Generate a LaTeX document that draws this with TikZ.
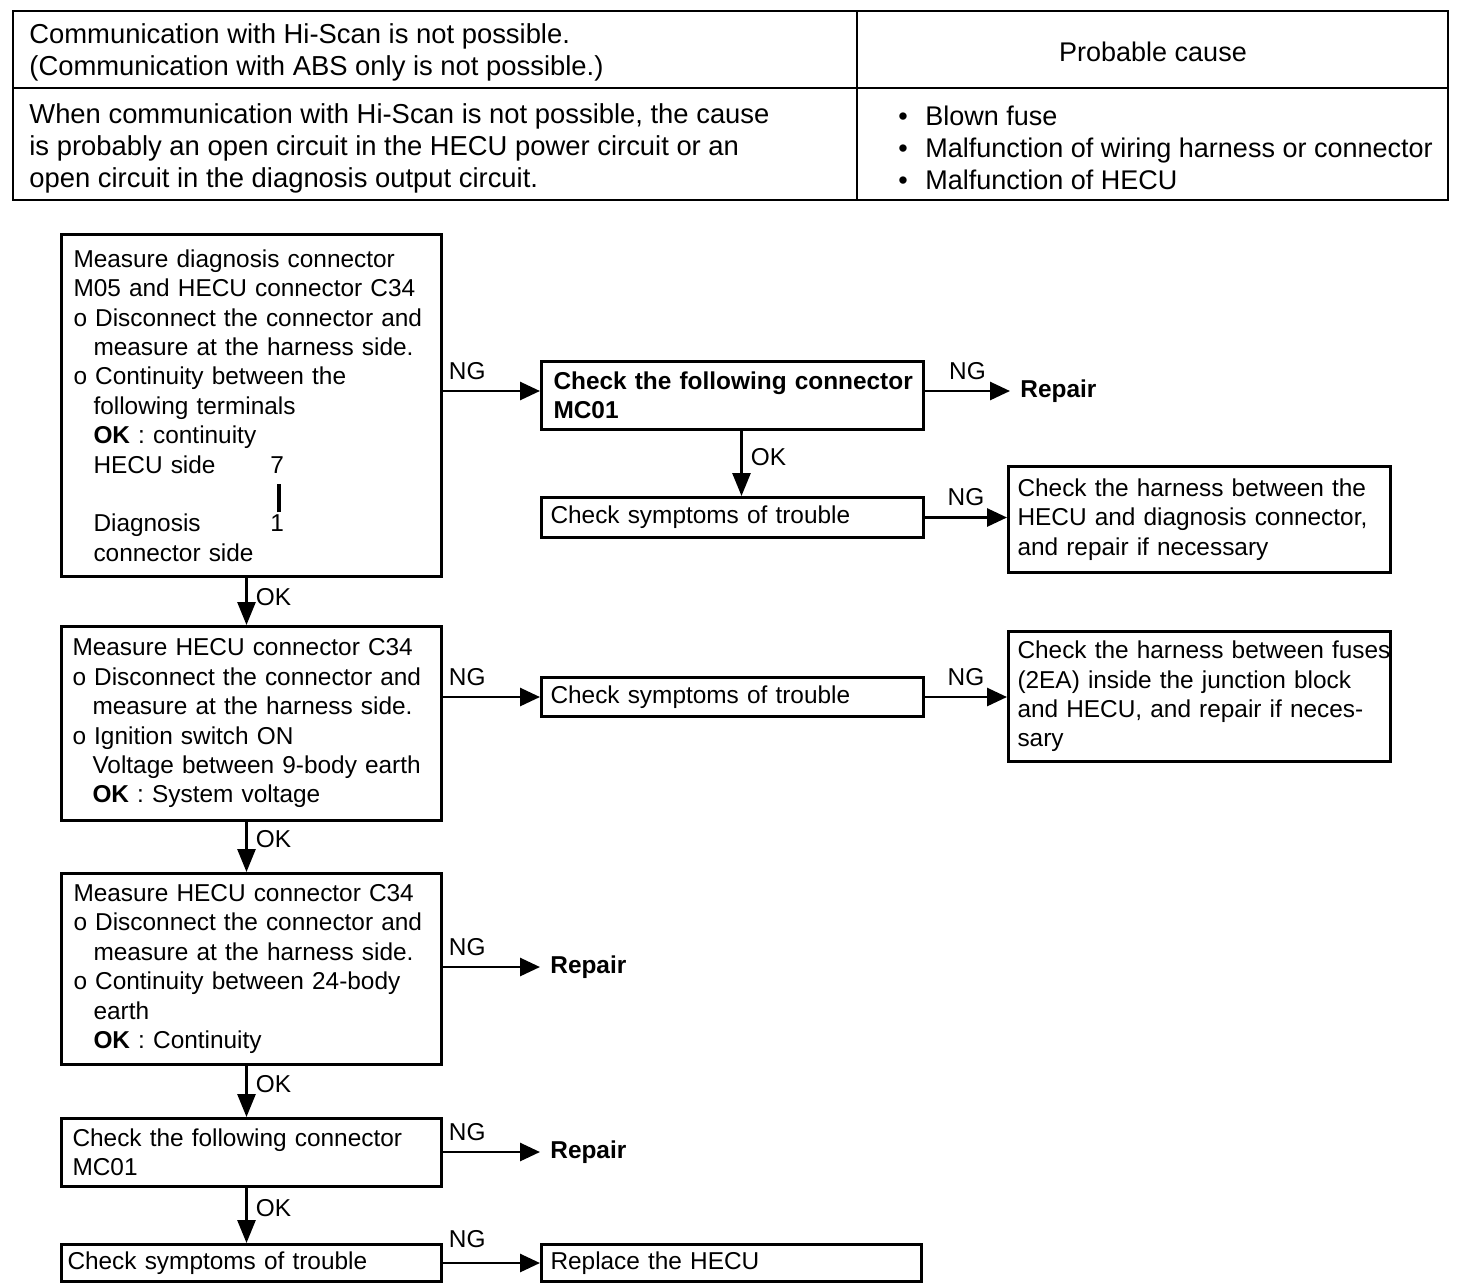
\documentclass[tikz,border=0pt]{standalone}
\usepackage{fontspec}
\setmainfont{Liberation Sans}
\usetikzlibrary{arrows.meta}
\newcommand\ind{\hspace*{10pt}}
\begin{document}
\begin{tikzpicture}[x=0.5pt,y=-0.5pt,
  fc/.style={font=\fontsize{12.2}{14.7}\selectfont},
  tt/.style={font=\fontsize{13.5}{16}\selectfont, inner sep=0pt},
  ttl/.style={font=\fontsize{13.7}{16}\selectfont, inner sep=0pt},
  box/.style={fc, draw, line width=1.5pt, anchor=north west, align=left, inner ysep=0pt},
  lbox/.style={box, inner xsep=6pt, minimum width=190pt, text width=178pt},
  rbox/.style={box, inner xsep=4.5pt, minimum width=191pt, text width=182pt},
  arr/.style={line width=1.4pt, -{Triangle[length=10pt,width=9pt]}},
  arrv/.style={line width=1.4pt, -{Triangle[length=11.5pt,width=9pt]}},
  lbl/.style={fc, inner sep=1pt},
  rep/.style={fc, font=\fontsize{12.2}{14.7}\selectfont\bfseries, anchor=west, inner xsep=5pt, inner ysep=1pt},
  tline/.style={line width=1.2pt}
]
\useasboundingbox (0,0) rectangle (1472,1286);
% table
\draw[tline] (13,11) rectangle (1448,200);
\draw[tline] (13,88) -- (1448,88);
\draw[tline] (857,11) -- (857,200);
\node[ttl, anchor=west, align=left] (q1) at (29,52) {Communication with Hi-Scan is not possible.\\(Communication with ABS only is not possible.)};
\node[ttl, anchor=west, align=left] (q2) at (29,148) {When communication with Hi-Scan is not possible, the cause\\is probably an open circuit in the HECU power circuit or an\\open circuit in the diagnosis output circuit.};
\node[tt] (pc) at (1153,52) {Probable cause};
\node[tt, anchor=west, align=left] (c1) at (898,148) {\makebox[13.5pt][l]{\textbullet}Blown fuse\\\makebox[13.5pt][l]{\textbullet}Malfunction of wiring harness or connector\\\makebox[13.5pt][l]{\textbullet}Malfunction of HECU};

% flowchart boxes
\node[lbox, minimum height=171pt] (A) at (60,233) {Measure diagnosis connector\\
M05 and HECU connector C34\\
o Disconnect the connector and\\
\ind measure at the harness side.\\
o Continuity between the\\
\ind following terminals\\
\ind\textbf{OK} : continuity\\
\ind\makebox[88.5pt][l]{HECU side}7\\
\ind\hspace*{91.5pt}\rule[-5pt]{2pt}{14pt}\\
\ind\makebox[88.5pt][l]{Diagnosis}1\\
\ind connector side};
\node[rbox, inner xsep=6pt, text width=179pt, minimum height=34pt, font=\fontsize{12.2}{14.7}\selectfont\bfseries] (B) at (540,360) {\mbox{Check the following connector}\\MC01};
\node[rbox, minimum height=20pt] (C) at (540,496) {Check symptoms of trouble};
\node[rbox, minimum width=190.5pt, text width=182pt, minimum height=53pt] (D) at (1007,465) {Check the harness between the\\\mbox{HECU and diagnosis connector,}\\and repair if necessary};
\node[lbox, inner xsep=5.5pt, text width=179pt, minimum height=97pt] (E) at (60,625) {Measure HECU connector C34\\
o Disconnect the connector and\\
\ind measure at the harness side.\\
o Ignition switch ON\\
\ind Voltage between 9-body earth\\
\ind\textbf{OK} : System voltage};
\node[rbox, minimum height=19.5pt] (F) at (540,676) {Check symptoms of trouble};
\node[rbox, minimum width=190.5pt, text width=182pt, minimum height=65pt] (G) at (1007,630) {\mbox{Check the harness between fuses}\\(2EA) inside the junction block\\and HECU, and repair if neces-\\sary};
\node[lbox, minimum height=95.5pt] (H) at (60,872) {Measure HECU connector C34\\
o Disconnect the connector and\\
\ind measure at the harness side.\\
o Continuity between 24-body\\
\ind earth\\
\ind\textbf{OK} : Continuity};
\node[lbox, inner xsep=5.5pt, text width=179pt, minimum height=34pt] (I) at (60,1117) {Check the following connector\\MC01};
\node[lbox, inner xsep=3pt, text width=184pt, minimum height=18.5pt] (J) at (60,1243) {Check symptoms of trouble};
\node[rbox, minimum width=190pt, text width=181pt, minimum height=18.5pt] (K) at (540,1243) {Replace the HECU};

\node[rep] (R1) at (1010,391) {Repair};
\node[rep] (R2) at (540,967) {Repair};
\node[rep] (R3) at (540,1152) {Repair};

% connectors
\draw[arr] (A.east |- R1.west) -- node[lbl, pos=0.25, above, yshift=4pt]{NG} (B.west |- R1.west);
\draw[arr] (B.east |- R1.west) -- node[lbl, pos=0.5, above, yshift=4pt]{NG} (R1.west);
\draw[arrv] ([xshift=4.5pt]B.south) -- node[lbl, pos=0.4, right, xshift=3pt]{OK} ([xshift=4.5pt]B.south |- C.north);
\draw[arr] (C.east) -- node[lbl, pos=0.5, above, yshift=4pt]{NG} (C.east -| D.west);
\draw[arrv] ([xshift=-2.5pt]A.south) -- node[lbl, pos=0.4, right, xshift=3pt]{OK} ([xshift=-2.5pt]A.south |- E.north);
\draw[arr] (E.east |- F.west) -- node[lbl, pos=0.25, above, yshift=4pt]{NG} (F.west);
\draw[arr] (F.east) -- node[lbl, pos=0.5, above, yshift=4pt]{NG} (F.east -| G.west);
\draw[arrv] ([xshift=-2.5pt]E.south) -- node[lbl, pos=0.35, right, xshift=3pt]{OK} ([xshift=-2.5pt]E.south |- H.north);
\draw[arr] (H.east |- R2.west) -- node[lbl, pos=0.25, above, yshift=4pt]{NG} (R2.west);
\draw[arrv] ([xshift=-2.5pt]H.south) -- node[lbl, pos=0.35, right, xshift=3pt]{OK} ([xshift=-2.5pt]H.south |- I.north);
\draw[arr] (I.east |- R3.west) -- node[lbl, pos=0.25, above, yshift=4pt]{NG} (R3.west);
\draw[arrv] ([xshift=-2.5pt]I.south) -- node[lbl, pos=0.36, right, xshift=3pt]{OK} ([xshift=-2.5pt]I.south |- J.north);
\draw[arr] (J.east |- K.west) -- node[lbl, pos=0.25, above, yshift=6pt]{NG} (K.west);
\end{tikzpicture}
\end{document}
